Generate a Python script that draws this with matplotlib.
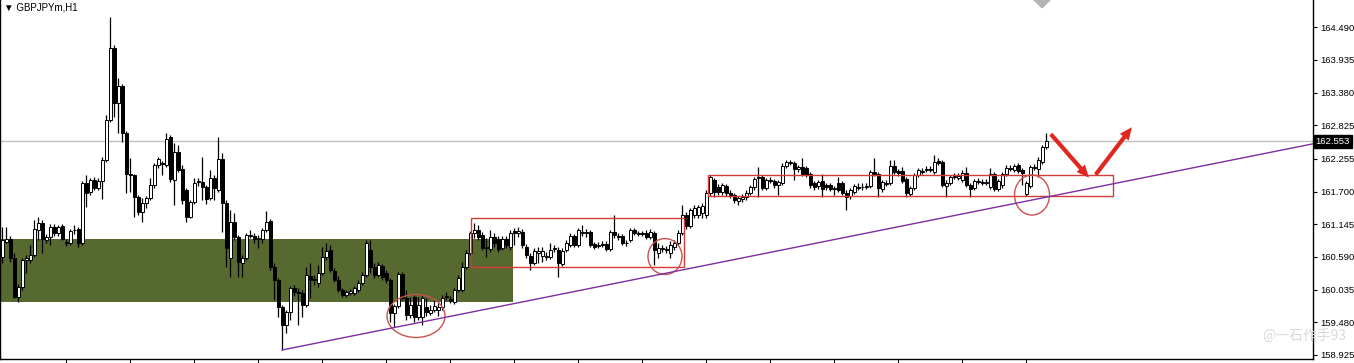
import matplotlib
matplotlib.use("Agg")
import matplotlib.pyplot as plt
import matplotlib.transforms as mtransforms
from matplotlib.patches import Rectangle, Ellipse, FancyArrowPatch, Polygon
import numpy as np

# GBPJPYm H1 candles (one per bar)
opens = [
    160.59, 160.84, 160.89, 160.57, 159.91, 160.08, 160.54, 160.54, 160.62, 161.05,
    161.17, 160.88, 160.93, 161.10, 161.00, 161.12, 160.84, 160.83, 161.04, 161.06,
    160.83, 161.85, 161.69, 161.90, 161.76, 161.88, 162.24, 162.92, 164.14, 163.20,
    163.49, 162.69, 162.00, 161.98, 161.61, 161.35, 161.51, 161.59, 161.81, 162.15,
    162.18, 162.15, 162.63, 161.90, 162.37, 162.08, 161.73, 161.27, 161.52, 161.86,
    161.86, 161.78, 161.59, 161.93, 161.73, 162.25, 161.51, 160.57, 161.18, 160.93,
    160.49, 160.57, 160.95, 160.95, 160.89, 160.89, 161.05, 161.20, 160.42, 160.20,
    159.74, 159.43, 159.66, 160.06, 159.99, 159.98, 159.77, 160.27, 160.20, 160.15,
    160.32, 160.59, 160.71, 160.35, 160.20, 160.03, 159.94, 159.98, 159.98, 160.03,
    160.15, 160.28, 160.71, 160.42, 160.28, 160.44, 160.32, 160.20, 159.64, 159.76,
    160.30, 159.89, 159.60, 159.91, 159.57, 159.57, 159.74, 159.64, 159.69, 159.69,
    159.74, 159.91, 159.88, 159.83, 160.03, 160.03, 160.42, 160.66, 161.00, 161.05,
    160.96, 160.76, 160.72, 160.93, 160.89, 160.74, 160.89, 160.76, 161.03, 161.00,
    161.01, 160.76, 160.61, 160.49, 160.66, 160.61, 160.59, 160.59, 160.72, 160.71,
    160.47, 160.71, 160.79, 160.95, 160.79, 161.00, 161.01, 161.01, 160.81, 160.78,
    160.79, 160.81, 160.72, 161.01, 160.95, 160.95, 160.82, 160.88, 161.05, 160.98,
    161.00, 161.00, 160.93, 161.00, 160.66, 160.72, 160.71, 160.66, 160.76, 160.83,
    161.00, 161.30, 161.12, 161.30, 161.30, 161.34, 161.30, 161.68, 161.90, 161.78,
    161.69, 161.79, 161.68, 161.64, 161.54, 161.57, 161.61, 161.68, 161.78, 161.93,
    161.95, 161.76, 161.90, 161.88, 161.81, 161.85, 162.13, 162.18, 162.18, 162.08,
    162.12, 162.10, 162.00, 161.85, 161.79, 161.88, 161.81, 161.81, 161.74, 161.85,
    161.85, 161.68, 161.62, 161.69, 161.76, 161.78, 161.78, 161.79, 162.03, 162.00,
    161.74, 161.83, 161.85, 162.13, 162.05, 162.05, 161.91, 161.66, 161.76, 161.98,
    162.03, 162.07, 162.08, 162.03, 162.22, 162.20, 161.79, 161.85, 161.95, 161.93,
    161.90, 162.02, 161.81, 161.76, 161.86, 161.86, 161.85, 161.78, 162.00, 161.74,
    161.81, 162.00, 162.08, 162.07, 162.15, 162.07, 161.66, 161.79, 162.10, 162.08,
    162.20, 162.46,
]
highs = [
    161.10, 161.10, 160.95, 160.66, 160.13, 160.57, 160.62, 160.79, 161.22, 161.27,
    161.22, 160.98, 161.15, 161.15, 161.13, 161.15, 160.89, 161.06, 161.13, 161.10,
    161.88, 161.98, 161.93, 161.95, 161.93, 162.29, 163.00, 164.66, 164.19, 163.63,
    163.53, 162.73, 162.27, 162.00, 161.64, 161.59, 161.62, 161.93, 162.18, 162.29,
    162.22, 162.69, 162.66, 162.52, 162.49, 162.15, 161.76, 161.56, 161.93, 161.93,
    162.29, 161.81, 162.07, 161.98, 162.63, 162.35, 161.56, 161.39, 161.34, 160.96,
    160.62, 161.00, 161.05, 161.00, 160.96, 161.08, 161.37, 161.23, 160.49, 160.23,
    159.77, 159.69, 160.10, 160.11, 160.06, 160.03, 160.42, 160.49, 160.28, 160.45,
    160.76, 160.83, 160.79, 160.40, 160.27, 160.06, 160.03, 160.05, 160.10, 160.20,
    160.33, 160.88, 160.88, 160.49, 160.50, 160.47, 160.37, 160.23, 159.79, 160.33,
    160.33, 160.03, 159.91, 159.94, 159.91, 159.94, 159.89, 159.77, 159.86, 159.81,
    159.94, 159.99, 159.93, 160.06, 160.28, 160.50, 160.71, 161.03, 161.17, 161.13,
    161.01, 160.91, 161.05, 161.00, 160.95, 160.95, 160.95, 161.05, 161.08, 161.10,
    161.06, 160.81, 160.66, 160.74, 160.76, 160.76, 160.67, 160.83, 160.79, 160.76,
    160.74, 160.88, 161.00, 160.98, 161.08, 161.13, 161.06, 161.05, 160.84, 160.84,
    160.86, 160.86, 161.05, 161.30, 161.00, 160.98, 160.88, 161.08, 161.08, 161.03,
    161.03, 161.05, 161.06, 161.03, 160.83, 160.79, 160.78, 160.86, 160.88, 161.05,
    161.47, 161.35, 161.42, 161.47, 161.47, 161.51, 161.73, 161.98, 161.93, 161.83,
    161.85, 161.83, 161.73, 161.68, 161.62, 161.66, 161.73, 161.81, 161.95, 162.12,
    161.98, 161.93, 161.95, 161.91, 161.90, 162.18, 162.24, 162.24, 162.22, 162.15,
    162.27, 162.13, 162.03, 161.88, 161.90, 162.00, 161.85, 161.85, 161.79, 161.95,
    161.88, 161.73, 161.76, 161.83, 161.85, 161.85, 161.85, 162.07, 162.27, 162.03,
    161.90, 161.90, 162.24, 162.24, 162.08, 162.12, 161.95, 161.79, 162.02, 162.10,
    162.10, 162.13, 162.13, 162.32, 162.27, 162.24, 161.90, 161.98, 162.02, 162.02,
    162.07, 162.12, 161.85, 161.91, 161.93, 161.91, 161.91, 162.10, 162.03, 161.91,
    162.03, 162.15, 162.15, 162.17, 162.18, 162.10, 161.88, 162.15, 162.17, 162.29,
    162.49, 162.69,
]
lows = [
    160.49, 160.83, 160.50, 159.89, 159.83, 160.03, 160.32, 160.49, 160.59, 160.88,
    160.66, 160.83, 160.79, 160.95, 160.95, 160.88, 160.78, 160.79, 160.98, 160.76,
    160.79, 161.44, 161.64, 161.73, 161.73, 161.57, 162.20, 162.88, 162.96, 162.69,
    162.54, 161.68, 161.69, 161.27, 161.30, 161.18, 161.42, 161.56, 161.76, 162.10,
    161.98, 162.12, 161.86, 161.47, 162.03, 161.49, 161.18, 161.25, 161.49, 161.79,
    161.56, 161.49, 161.56, 161.56, 161.69, 161.01, 160.42, 160.25, 160.88, 160.25,
    160.25, 160.54, 160.91, 160.83, 160.74, 160.83, 161.01, 160.37, 159.86, 159.57,
    159.01, 159.30, 159.52, 159.93, 159.43, 159.57, 159.74, 159.89, 160.11, 160.08,
    160.28, 160.54, 160.33, 160.16, 159.99, 159.91, 159.91, 159.94, 159.94, 159.99,
    160.11, 160.25, 160.32, 160.23, 160.25, 160.20, 160.15, 159.49, 159.40, 159.72,
    159.86, 159.52, 159.55, 159.49, 159.52, 159.43, 159.59, 159.60, 159.66, 159.59,
    159.69, 159.86, 159.81, 159.79, 159.99, 159.99, 160.39, 160.62, 160.91, 160.88,
    160.71, 160.59, 160.67, 160.76, 160.67, 160.71, 160.74, 160.71, 160.79, 160.93,
    160.74, 160.57, 160.37, 160.45, 160.49, 160.50, 160.54, 160.56, 160.67, 160.25,
    160.44, 160.67, 160.76, 160.76, 160.76, 160.95, 160.93, 160.76, 160.72, 160.74,
    160.76, 160.69, 160.69, 160.91, 160.88, 160.79, 160.78, 160.84, 160.96, 160.95,
    160.95, 160.89, 160.89, 160.45, 160.57, 160.67, 160.66, 160.57, 160.71, 160.79,
    160.96, 161.06, 161.08, 161.25, 161.25, 161.25, 161.25, 161.62, 161.61, 161.64,
    161.64, 161.62, 161.59, 161.51, 161.47, 161.52, 161.56, 161.64, 161.73, 161.61,
    161.73, 161.73, 161.85, 161.76, 161.64, 161.81, 162.10, 162.15, 161.90, 162.03,
    161.96, 161.95, 161.76, 161.73, 161.74, 161.61, 161.73, 161.71, 161.64, 161.69,
    161.64, 161.39, 161.57, 161.66, 161.73, 161.73, 161.74, 161.76, 161.96, 161.61,
    161.69, 161.79, 161.81, 162.00, 161.96, 161.85, 161.61, 161.62, 161.73, 161.95,
    162.00, 162.03, 162.03, 162.00, 162.15, 161.78, 161.61, 161.81, 161.91, 161.90,
    161.86, 161.78, 161.61, 161.73, 161.83, 161.81, 161.81, 161.74, 161.71, 161.71,
    161.76, 161.96, 162.05, 162.03, 162.02, 161.81, 161.62, 161.76, 162.07, 161.95,
    162.17, 162.42,
]
closes = [
    160.88, 160.89, 160.57, 159.91, 160.08, 160.54, 160.57, 160.62, 161.06, 161.17,
    160.89, 160.93, 161.10, 161.00, 161.10, 160.89, 160.83, 161.03, 161.05, 160.83,
    161.85, 161.68, 161.90, 161.76, 161.88, 162.24, 162.92, 164.14, 163.20, 163.49,
    162.69, 162.00, 161.98, 161.61, 161.35, 161.51, 161.59, 161.81, 162.15, 162.25,
    162.17, 162.59, 161.91, 162.37, 162.07, 161.56, 161.27, 161.52, 161.85, 161.88,
    161.78, 161.57, 161.93, 161.76, 162.25, 161.51, 160.74, 161.18, 160.93, 160.50,
    160.57, 160.96, 160.96, 160.89, 160.91, 161.05, 161.18, 160.42, 160.20, 159.74,
    159.43, 159.66, 160.06, 159.99, 159.98, 159.77, 160.28, 160.20, 160.21, 160.32,
    160.59, 160.69, 160.37, 160.20, 160.03, 159.94, 159.99, 160.01, 160.06, 160.15,
    160.28, 160.83, 160.42, 160.28, 160.45, 160.25, 160.20, 159.64, 159.76, 160.30,
    159.89, 159.60, 159.77, 159.57, 159.77, 159.89, 159.66, 159.69, 159.76, 159.74,
    159.89, 159.93, 159.84, 160.03, 160.23, 160.42, 160.66, 161.00, 161.05, 160.93,
    160.74, 160.74, 160.93, 160.83, 160.72, 160.89, 160.79, 161.00, 161.00, 161.03,
    160.79, 160.62, 160.49, 160.69, 160.69, 160.69, 160.61, 160.71, 160.74, 160.49,
    160.69, 160.83, 160.95, 160.79, 161.05, 161.01, 161.00, 160.79, 160.76, 160.79,
    160.81, 160.72, 161.01, 160.96, 160.93, 160.83, 160.83, 161.05, 161.00, 161.00,
    160.98, 160.93, 161.01, 160.71, 160.74, 160.74, 160.72, 160.79, 160.83, 161.00,
    161.30, 161.12, 161.39, 161.42, 161.44, 161.45, 161.68, 161.95, 161.69, 161.69,
    161.81, 161.68, 161.64, 161.56, 161.59, 161.61, 161.68, 161.78, 161.91, 161.95,
    161.76, 161.90, 161.88, 161.81, 161.86, 162.13, 162.20, 162.20, 162.08, 162.12,
    162.00, 161.98, 161.81, 161.78, 161.86, 161.74, 161.78, 161.74, 161.76, 161.73,
    161.68, 161.61, 161.73, 161.79, 161.78, 161.77, 161.79, 162.03, 162.00, 161.76,
    161.86, 161.85, 162.13, 162.03, 162.02, 161.88, 161.68, 161.76, 161.98, 162.07,
    162.05, 162.08, 162.07, 162.20, 162.18, 161.81, 161.85, 161.95, 161.96, 161.96,
    162.02, 161.81, 161.74, 161.88, 161.88, 161.85, 161.86, 162.00, 161.74, 161.88,
    162.00, 162.10, 162.10, 162.13, 162.05, 162.02, 161.85, 162.12, 162.12, 162.24,
    162.46, 162.56,
]

price_ticks = [164.490, 163.935, 163.380, 162.825, 162.255, 161.700,
               161.145, 160.590, 160.035, 159.480, 158.925]
last_price = 162.553
symbol_label = "GBPJPYm,H1"

# drawn objects on the chart (bar index / price)
zone_green = (-0.5, 127.75, 159.825, 160.894)
range_boxes = [(117.25, 170.5, 160.419, 161.251), (176.5, 277.75, 161.624, 161.981)]
circles = [(103.5, 159.587, 14.5, 0.73), (165.75, 160.597, 8.5, 0.61), (257.5, 161.641, 8.75, 0.68)]
trend_x = [70, 327.75]
trend_y = [159.01, 162.51]

o = np.array(opens)
h = np.array(highs)
l = np.array(lows)
c = np.array(closes)
idx = np.arange(len(o))

fig = plt.figure(figsize=(13.54, 3.63), dpi=100)
ax = fig.add_axes([0, 4 / 363, 1313 / 1354, 359 / 363])
ax.set_xlim(-0.5, 327.75)
ax.set_ylim(158.857, 164.952)

# support zone
x0, x1, y0, y1 = zone_green
ax.add_patch(Rectangle((x0, y0), x1 - x0, y1 - y0, facecolor="#56692f",
                       edgecolor="none", zorder=1))

# last price line
ax.axhline(last_price, color="#c0c0c0", lw=1, zorder=1.5)

# candles
ax.vlines(idx, l, h, color="black", lw=0.9, zorder=2.5)
body_lo = np.minimum(o, c)
body_h = np.maximum(np.abs(c - o), 0.004)
face = np.where(c >= o, "white", "black")
ax.bar(idx, body_h, bottom=body_lo, width=0.75, color=face,
       edgecolor="black", linewidth=0.7, zorder=3)

# annotations
for bx0, bx1, by0, by1 in range_boxes:
    ax.add_patch(Rectangle((bx0, by0), bx1 - bx0, by1 - by0, facecolor="none",
                           edgecolor="#d23c37", lw=1, zorder=4))
for cx, cy, w, hh in circles:
    ax.add_patch(Ellipse((cx, cy), w, hh, facecolor="none",
                         edgecolor="#c9514b", lw=1, zorder=4))
ax.plot(trend_x, trend_y, color="#7d2fa3", lw=1, zorder=4, clip_on=True)

arrow_style = "simple,head_length=9,head_width=8,tail_width=3"
ax.add_patch(FancyArrowPatch((261.75, 162.71), (272.2, 161.90), arrowstyle=arrow_style,
                             mutation_scale=1, color="#e0261f", lw=0, zorder=5))
ax.add_patch(FancyArrowPatch((273.0, 161.95), (282.9, 162.83), arrowstyle=arrow_style,
                             mutation_scale=1, color="#e0261f", lw=0, zorder=5))

# gray shift marker at the top
ax.add_patch(Polygon([(258.0, 164.952), (262.0, 164.952), (260, 164.82)],
                     closed=True, color="#b4b4b4", clip_on=False, zorder=5))

# axes styling, MT4 look
ax.spines["top"].set_visible(False)
for side in ["left", "right", "bottom"]:
    ax.spines[side].set_color("black")
    ax.spines[side].set_linewidth(1)

ax.yaxis.tick_right()
ax.set_yticks(price_ticks)
ax.set_yticklabels([f"{v:.3f}" for v in price_ticks])
ax.tick_params(axis="y", direction="out", length=3, width=0.8, pad=2,
               labelsize=6.8, labelfontfamily="Liberation Sans")
ax.set_xticks(np.arange(16, 260, 16))
ax.set_xticklabels([])
ax.tick_params(axis="x", direction="out", length=4, width=0.8)

trans = mtransforms.blended_transform_factory(ax.transAxes, ax.transData)
ax.text(1.002, last_price, f"{last_price:.3f}", transform=trans, ha="left", va="center",
        color="white", fontsize=6.8, family="Liberation Sans", zorder=6,
        bbox=dict(boxstyle="square,pad=0.22", facecolor="black", edgecolor="black"))

fig.text(4 / 1354, 1 - 7 / 363, "\u25bc " + symbol_label, ha="left", va="center",
         fontsize=7, family=["Liberation Sans", "DejaVu Sans"], color="black")

fig.text(1262 / 1354, 1 - 336 / 363, "@一石作手93", ha="left", va="center",
         fontsize=10, family=["Noto Sans CJK SC", "DejaVu Sans"], color="#dadada")

fig.savefig("out.png", dpi=100)
